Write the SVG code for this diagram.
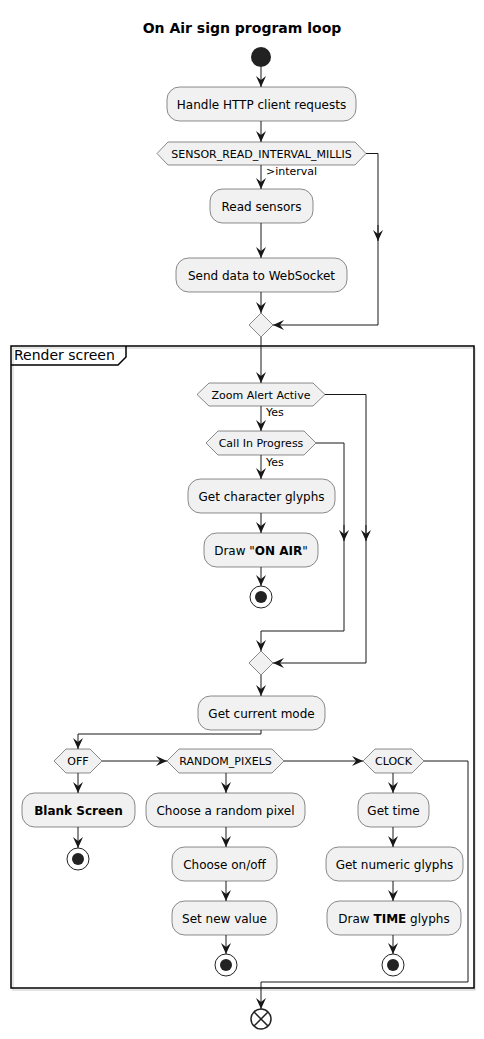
<svg xmlns="http://www.w3.org/2000/svg" width="484" height="1039" viewBox="0 0 484 1039">
<style>
.act{fill:#F1F1F1;stroke:#181818;stroke-width:0.5}
.t{font-family:"DejaVu Sans",sans-serif;font-size:12px;fill:#000;text-anchor:middle}
.d{font-family:"DejaVu Sans",sans-serif;font-size:11px;fill:#000;text-anchor:middle}
.l{font-family:"DejaVu Sans",sans-serif;font-size:11px;fill:#000}
.c{fill:none;stroke:#181818;stroke-width:1}
.b{font-weight:bold}
</style>
<defs>
<marker id="ah" markerWidth="11" markerHeight="10" refX="11" refY="5" orient="auto" markerUnits="userSpaceOnUse">
<path d="M0,0 L11,5 L0,10 L4,5 Z" fill="#181818"/>
</marker>
</defs>
<rect width="484" height="1039" fill="#FFFFFF"/>
<text x="242" y="33" font-family="DejaVu Sans,sans-serif" font-size="14" font-weight="bold" text-anchor="middle">On Air sign program loop</text>

<g id="frame">
<rect x="13" y="348" width="462" height="642" fill="none" stroke="#CCCCCC" stroke-width="1"/>
<rect x="11" y="346" width="463" height="642" fill="none" stroke="#000" stroke-width="1.5"/>
<path d="M11,365 L118,365 L126,357 L126,346" fill="none" stroke="#000" stroke-width="1.5"/>
<text x="14" y="360" font-family="DejaVu Sans,sans-serif" font-size="14">Render screen</text>
</g>

<g id="connectors">
<line class="c" x1="261" y1="67" x2="261" y2="87" marker-end="url(#ah)"/>
<line class="c" x1="261" y1="121" x2="261" y2="142" marker-end="url(#ah)"/>
<line class="c" x1="261" y1="165" x2="261" y2="189" marker-end="url(#ah)"/>
<line class="c" x1="261" y1="223" x2="261" y2="258" marker-end="url(#ah)"/>
<line class="c" x1="261" y1="292" x2="261" y2="313" marker-end="url(#ah)"/>
<polyline class="c" points="366,153.5 378,153.5 378,325 273,325" marker-end="url(#ah)"/>
<line class="c" x1="378" y1="225" x2="378" y2="241" marker-end="url(#ah)"/>
<line class="c" x1="261" y1="337" x2="261" y2="383" marker-end="url(#ah)"/>
<line class="c" x1="261" y1="406" x2="261" y2="431" marker-end="url(#ah)"/>
<line class="c" x1="261" y1="455" x2="261" y2="479" marker-end="url(#ah)"/>
<line class="c" x1="261" y1="513" x2="261" y2="533" marker-end="url(#ah)"/>
<line class="c" x1="261" y1="567" x2="261" y2="586" marker-end="url(#ah)"/>
<polyline class="c" points="316,443 344,443 344,631 261,631 261,651" marker-end="url(#ah)"/>
<line class="c" x1="344" y1="525" x2="344" y2="541" marker-end="url(#ah)"/>
<polyline class="c" points="325,394.5 366,394.5 366,663 273,663" marker-end="url(#ah)"/>
<line class="c" x1="366" y1="525" x2="366" y2="541" marker-end="url(#ah)"/>
<line class="c" x1="261" y1="675" x2="261" y2="696" marker-end="url(#ah)"/>
<polyline class="c" points="261,730 261,734 78,734 78,749" marker-end="url(#ah)"/>
<line class="c" x1="102" y1="761" x2="167" y2="761" marker-end="url(#ah)"/>
<line class="c" x1="284" y1="761" x2="363" y2="761" marker-end="url(#ah)"/>
<line class="c" x1="78" y1="773" x2="78" y2="793" marker-end="url(#ah)"/>
<line class="c" x1="78" y1="827" x2="78" y2="848" marker-end="url(#ah)"/>
<line class="c" x1="226" y1="773" x2="226" y2="793" marker-end="url(#ah)"/>
<line class="c" x1="226" y1="827" x2="226" y2="847" marker-end="url(#ah)"/>
<line class="c" x1="226" y1="881" x2="226" y2="901" marker-end="url(#ah)"/>
<line class="c" x1="226" y1="935" x2="226" y2="954" marker-end="url(#ah)"/>
<line class="c" x1="393" y1="773" x2="393" y2="793" marker-end="url(#ah)"/>
<line class="c" x1="393" y1="827" x2="393" y2="847" marker-end="url(#ah)"/>
<line class="c" x1="393" y1="881" x2="393" y2="901" marker-end="url(#ah)"/>
<line class="c" x1="393" y1="935" x2="393" y2="954" marker-end="url(#ah)"/>
<polyline class="c" points="424,761 468,761 468,982 261,982 261,1009" marker-end="url(#ah)"/>
<text class="l" x="266" y="175">&gt;interval</text>
<text class="l" x="266" y="416">Yes</text>
<text class="l" x="266" y="466">Yes</text>
</g>

<g id="start"><circle cx="261" cy="57" r="10" fill="#222222"/></g>
<g id="handle"><rect class="act" x="167" y="87" width="189" height="34" rx="12.5"/><text class="t" x="261.5" y="108.5">Handle HTTP client requests</text></g>
<g id="sensorIf"><polygon class="act" points="157,153.5 168,142 355,142 366,153.5 355,165 168,165"/><text class="d" x="261.5" y="157.5">SENSOR_READ_INTERVAL_MILLIS</text></g>
<g id="readSensors"><rect class="act" x="210" y="189" width="103" height="34" rx="12.5"/><text class="t" x="261.5" y="210.5">Read sensors</text></g>
<g id="sendData"><rect class="act" x="176" y="258" width="171" height="34" rx="12.5"/><text class="t" x="261.5" y="279.5">Send data to WebSocket</text></g>
<g id="merge1"><polygon class="act" points="261,313 273,325 261,337 249,325"/></g>

<g id="zoomIf"><polygon class="act" points="197,394.5 209,383 313,383 325,394.5 313,406 209,406"/><text class="d" x="261" y="398.5">Zoom Alert Active</text></g>
<g id="callIf"><polygon class="act" points="206,443 218,431 304,431 316,443 304,455 218,455"/><text class="d" x="261" y="447">Call In Progress</text></g>
<g id="getChar"><rect class="act" x="188" y="479" width="147" height="34" rx="12.5"/><text class="t" x="261.5" y="500.5">Get character glyphs</text></g>
<g id="drawOnAir"><rect class="act" x="204" y="533" width="114" height="34" rx="12.5"/><text class="t" x="261" y="554.5">Draw "<tspan class="b">ON AIR</tspan>"</text></g>
<g id="stop1"><circle cx="261" cy="597" r="11" fill="none" stroke="#222" stroke-width="1"/><circle cx="261" cy="597" r="6" fill="#222"/></g>
<g id="merge2"><polygon class="act" points="261,651 273,663 261,675 249,663"/></g>
<g id="getMode"><rect class="act" x="198" y="696" width="127" height="34" rx="12.5"/><text class="t" x="261.5" y="717.5">Get current mode</text></g>

<g id="offIf"><polygon class="act" points="54,761 66,749 90,749 102,761 90,773 66,773"/><text class="d" x="78" y="765">OFF</text></g>
<g id="randomIf"><polygon class="act" points="167,761 179,749 272,749 284,761 272,773 179,773"/><text class="d" x="225.5" y="765">RANDOM_PIXELS</text></g>
<g id="clockIf"><polygon class="act" points="363,761 375,749 412,749 424,761 412,773 375,773"/><text class="d" x="393.5" y="765">CLOCK</text></g>

<g id="blank"><rect class="act" x="22" y="793" width="113" height="34" rx="12.5"/><text class="t b" x="78.5" y="814.5">Blank Screen</text></g>
<g id="stop2"><circle cx="78" cy="859" r="11" fill="none" stroke="#222" stroke-width="1"/><circle cx="78" cy="859" r="6" fill="#222"/></g>

<g id="randPixel"><rect class="act" x="146" y="793" width="159" height="34" rx="12.5"/><text class="t" x="225.5" y="814.5">Choose a random pixel</text></g>
<g id="onOff"><rect class="act" x="172" y="847" width="105" height="34" rx="12.5"/><text class="t" x="224.5" y="868.5">Choose on/off</text></g>
<g id="setVal"><rect class="act" x="172" y="901" width="105" height="34" rx="12.5"/><text class="t" x="224.5" y="922.5">Set new value</text></g>
<g id="stop3"><circle cx="226" cy="965" r="11" fill="none" stroke="#222" stroke-width="1"/><circle cx="226" cy="965" r="6" fill="#222"/></g>

<g id="getTime"><rect class="act" x="358" y="793" width="71" height="34" rx="12.5"/><text class="t" x="393.5" y="814.5">Get time</text></g>
<g id="numGlyphs"><rect class="act" x="326" y="847" width="137" height="34" rx="12.5"/><text class="t" x="394.5" y="868.5">Get numeric glyphs</text></g>
<g id="drawTime"><rect class="act" x="327" y="901" width="134" height="34" rx="12.5"/><text class="t" x="394" y="922.5">Draw <tspan class="b">TIME</tspan> glyphs</text></g>
<g id="stop4"><circle cx="393" cy="965" r="11" fill="none" stroke="#222" stroke-width="1"/><circle cx="393" cy="965" r="6" fill="#222"/></g>

<g id="end"><circle cx="261" cy="1019" r="10" fill="none" stroke="#222" stroke-width="1.5"/><line x1="254" y1="1012" x2="268" y2="1026" stroke="#222" stroke-width="1.5"/><line x1="268" y1="1012" x2="254" y2="1026" stroke="#222" stroke-width="1.5"/></g>
</svg>
